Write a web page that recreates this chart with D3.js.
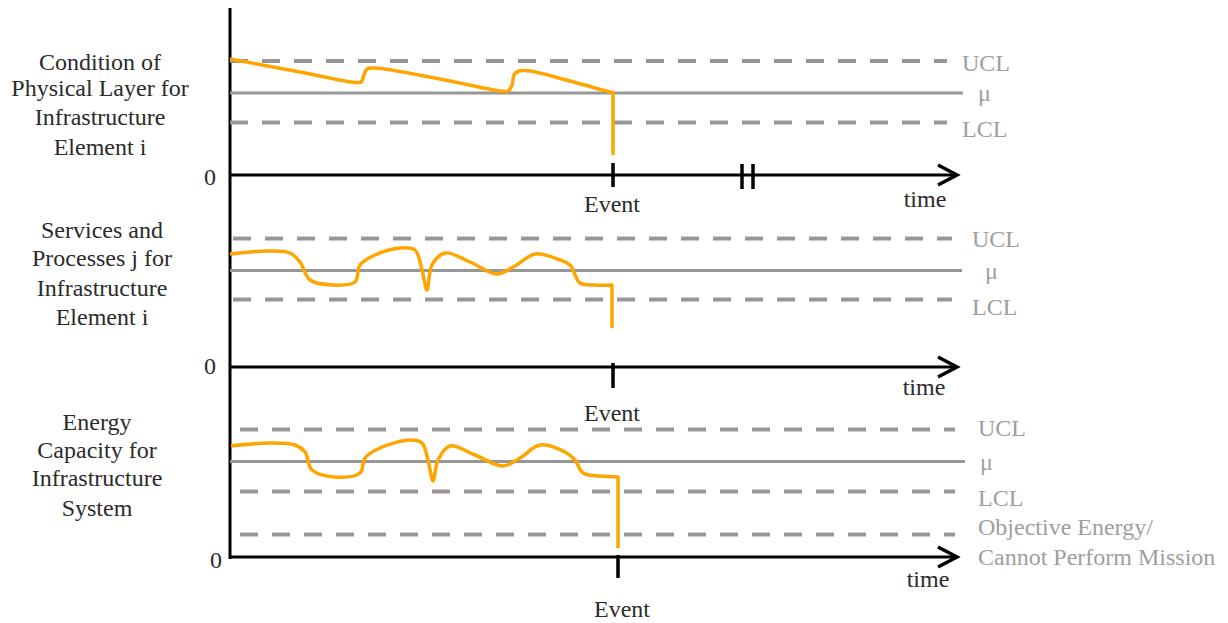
<!DOCTYPE html>
<html>
<head>
<meta charset="utf-8">
<script src="https://cdn.jsdelivr.net/npm/d3@7"></script>
<style>
  html, body { margin: 0; padding: 0; background: #fff; }
  svg { display: block; }
  text { font-family: "Liberation Serif", "DejaVu Serif", serif; }
</style>
</head>
<body>
<svg id="chart" width="1228" height="623"></svg>
<script>
// ---------------- DATA ----------------
const panelTitles = [
  ["Condition of", "Physical Layer for", "Infrastructure", "Element i"],
  ["Services and", "Processes j for", "Infrastructure", "Element i"],
  ["Energy", "Capacity for", "Infrastructure", "System"]
];
const controlLabels = ["UCL", "μ", "LCL"];
const objectiveLabel = ["Objective Energy/", "Cannot Perform Mission"];
const axisZeroLabel = "0";
const eventLabel = "Event";
const timeLabel = "time";

// control limits per panel (value units above the panel's zero line)
const uclValues  = [114, 128.5, 127.5];
const meanValues = [82, 96.5, 95.5];
const lclValues  = [52.5, 67.5, 65.5];
const objectiveValue = 22.5;

// event time per panel, and break marks on first axis
const eventTimes = [76.6, 76.6, 77.6];
const breakTimes = [102.4, 104.6];

// series: [time, value]  (last point = drop at the event)
const conditionSeries = [
  [0,116],[14,103],[25,92.5],[26.2,93],[26.8,100],[27.4,106],[29,107],[42,96],
  [54,84],[55.6,84],[56.4,90],[56.8,100],[57.8,104],[60,104],[68,94],[76.6,82],[76.6,20]
];
const servicesSeries = [
  [0,113],[8,116],[12,114],[14,105],[16,87],[20.6,82],[25,85],[26,102],[29,112],
  [34,119],[37,117],[38.4,97],[39.4,77],[40.4,102],[43,114],[48,105],[53.4,93],
  [57,101],[61,113],[66,107],[68,102],[70,84],[73,82],[76.4,82],[76.4,39]
];
const energySeries = [
  [0.2,111],[8,114],[13,112],[15,105],[16.4,87],[21,80],[26,84],[27,99],[30,109],
  [36,117],[38.4,114],[39.6,97],[40.6,76],[41.6,97],[44,111],[49,102],[54.6,91],
  [58,99],[62,112],[67,105],[69,97],[70.6,84],[74,81],[77.6,80],[77.6,9]
];
const seriesList = [conditionSeries, servicesSeries, energySeries];

// ---------------- LAYOUT ----------------
const svg = d3.select("#chart");
const x = d3.scaleLinear().domain([0, 145]).range([230, 955]);
const axisX = 230, arrowTip = 957;
const panels = [
  { zeroY: 175, dashStart: 0, dashEnd: 143.4, meanEnd: 146.6, labelX: 962, muX: 978,
    labelBase: [71, 101, 137], titleX: 100, titleBase: [70, 96, 125, 155],
    zeroX: 210, zeroBase: 185, eventX: 612, eventBase: 212, timeX: 925, timeBase: 207,
    tick: [-12, 12] },
  { zeroY: 367, dashStart: 0.6, dashEnd: 144.4, meanEnd: 146.4, labelX: 972, muX: 985,
    labelBase: [247, 279, 315], titleX: 102, titleBase: [238, 266, 296, 325],
    zeroX: 210, zeroBase: 374, eventX: 612, eventBase: 421, timeX: 924, timeBase: 395,
    tick: [-4, 21] },
  { zeroY: 557, dashStart: 2, dashEnd: 145, meanEnd: 147, labelX: 978, muX: 980,
    labelBase: [436, 470, 506], titleX: 97, titleBase: [430, 458, 486, 516],
    zeroX: 216, zeroBase: 568, eventX: 622, eventBase: 617, timeX: 928, timeBase: 587,
    tick: [-2, 21] }
];
const yScale = p => d3.scaleLinear().domain([0, 100]).range([p.zeroY, p.zeroY - 100]);

const gray = "#979797", labelGray = "#9e9e9e", dark = "#2b2b2b", orange = "#FFA500";
const fontSize = 24;

// vertical axis
svg.append("line").attr("x1", axisX).attr("x2", axisX).attr("y1", 8).attr("y2", 559)
  .attr("stroke", "#000").attr("stroke-width", 3);

panels.forEach((p, i) => {
  const y = yScale(p);
  const g = svg.append("g");

  // control lines
  const dashedVals = [uclValues[i], lclValues[i]];
  if (i === 2) dashedVals.push(objectiveValue);
  dashedVals.forEach(v => {
    g.append("line").attr("x1", x(p.dashStart)).attr("x2", x(p.dashEnd))
      .attr("y1", y(v)).attr("y2", y(v))
      .attr("stroke", gray).attr("stroke-width", 4).attr("stroke-dasharray", "18,14");
  });
  g.append("line").attr("x1", axisX).attr("x2", x(p.meanEnd))
    .attr("y1", y(meanValues[i])).attr("y2", y(meanValues[i]))
    .attr("stroke", gray).attr("stroke-width", 3);

  // right labels
  controlLabels.forEach((lab, k) => {
    g.append("text").attr("x", k === 1 ? p.muX : p.labelX).attr("y", p.labelBase[k])
      .attr("font-size", fontSize).attr("fill", labelGray).text(lab);
  });
  if (i === 2) {
    objectiveLabel.forEach((lab, k) => {
      g.append("text").attr("x", p.labelX).attr("y", 535 + k * 30)
        .attr("font-size", fontSize).attr("fill", labelGray).text(lab);
    });
  }

  // horizontal axis with arrow
  g.append("line").attr("x1", axisX - 1).attr("x2", arrowTip - 1)
    .attr("y1", p.zeroY).attr("y2", p.zeroY).attr("stroke", "#000").attr("stroke-width", 3);
  g.append("path")
    .attr("d", `M${arrowTip - 19},${p.zeroY - 10} L${arrowTip},${p.zeroY} L${arrowTip - 19},${p.zeroY + 10}`)
    .attr("fill", "none").attr("stroke", "#000").attr("stroke-width", 3.5)
    .attr("stroke-linejoin", "miter");

  // event tick
  const ex = x(eventTimes[i]);
  g.append("line").attr("x1", ex).attr("x2", ex)
    .attr("y1", p.zeroY + p.tick[0]).attr("y2", p.zeroY + p.tick[1])
    .attr("stroke", "#000").attr("stroke-width", 3.5);

  // break marks
  if (i === 0) {
    breakTimes.forEach(t => {
      g.append("line").attr("x1", x(t)).attr("x2", x(t))
        .attr("y1", p.zeroY - 11).attr("y2", p.zeroY + 14)
        .attr("stroke", "#000").attr("stroke-width", 3.5);
    });
  }

  // series: smooth part + straight drop at the event
  const s = seriesList[i];
  const smooth = d3.line().x(d => x(d[0])).y(d => y(d[1]))
    .curve(d3.curveCatmullRom.alpha(0.5));
  const straight = d3.line().x(d => x(d[0])).y(d => y(d[1]));
  const dPath = smooth(s.slice(0, -1)) + straight(s.slice(-2)).replace(/^M[^L]*/, "");
  g.append("path").attr("d", dPath)
    .attr("fill", "none").attr("stroke", orange).attr("stroke-width", 3.5)
    .attr("stroke-linejoin", "round");

  // texts
  panelTitles[i].forEach((t, k) => {
    g.append("text").attr("x", p.titleX).attr("y", p.titleBase[k])
      .attr("text-anchor", "middle").attr("font-size", fontSize).attr("fill", dark).text(t);
  });
  g.append("text").attr("x", p.zeroX).attr("y", p.zeroBase).attr("text-anchor", "middle")
    .attr("font-size", fontSize).attr("fill", dark).text(axisZeroLabel);
  g.append("text").attr("x", p.eventX).attr("y", p.eventBase).attr("text-anchor", "middle")
    .attr("font-size", fontSize).attr("fill", dark).text(eventLabel);
  g.append("text").attr("x", p.timeX).attr("y", p.timeBase).attr("text-anchor", "middle")
    .attr("font-size", fontSize).attr("fill", dark).text(timeLabel);
});
</script>
</body>
</html>
